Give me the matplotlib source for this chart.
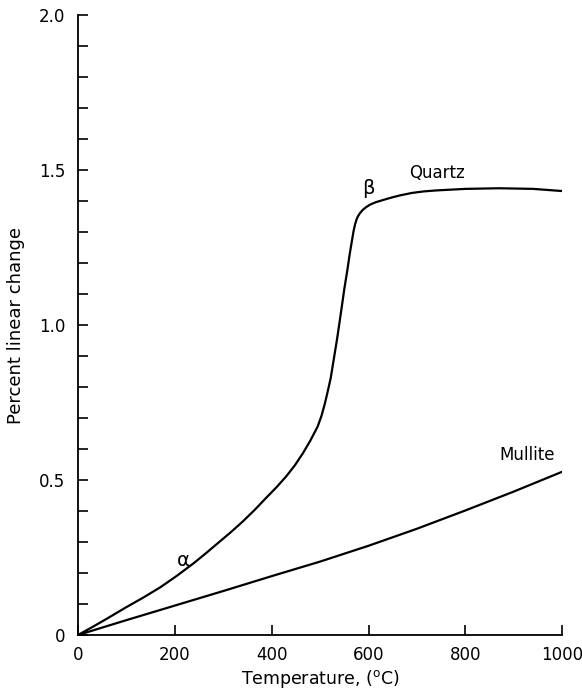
import matplotlib
matplotlib.use("Agg")
import matplotlib.pyplot as plt
from matplotlib.ticker import MultipleLocator

# Thermal expansion of quartz and mullite (percent linear change vs temperature)
quartz_T = [0, 30, 60, 100, 135, 170, 205, 240, 265, 290, 315, 340, 365, 390,
            410, 430, 448, 465, 480, 495, 503, 510, 516, 522, 528, 535, 540,
            545, 550, 556, 561, 566, 569, 572, 575, 578, 582, 588, 595, 603,
            615, 630, 645, 665, 690, 715, 740, 800, 870, 940, 1000]
quartz_pct = [0.0, 0.026, 0.053, 0.09, 0.121, 0.154, 0.192, 0.233, 0.265,
              0.298, 0.331, 0.366, 0.404, 0.445, 0.477, 0.512, 0.548, 0.588,
              0.628, 0.673, 0.708, 0.748, 0.788, 0.83, 0.888, 0.955, 1.008,
              1.062, 1.117, 1.175, 1.228, 1.275, 1.303, 1.324, 1.34, 1.351,
              1.361, 1.372, 1.381, 1.389, 1.397, 1.404, 1.411, 1.419, 1.427,
              1.432, 1.435, 1.44, 1.442, 1.44, 1.433]

mullite_T = [0, 100, 200, 300, 400, 500, 600, 700, 800, 900, 1000]
mullite_pct = [0.0, 0.048, 0.095, 0.142, 0.19, 0.237, 0.288, 0.343, 0.402,
               0.463, 0.527]

x_ticks = [0, 200, 400, 600, 800, 1000]
y_ticks = [0, 0.5, 1.0, 1.5, 2.0]
y_tick_labels = ["0", "0.5", "1.0", "1.5", "2.0"]

plt.rcParams["font.family"] = ["DejaVu Sans"]

fig = plt.figure(figsize=(5.82, 6.9), dpi=100)
ax = fig.add_axes([0.134, 0.0797, 0.832, 0.898])

ax.plot(quartz_T, quartz_pct, color="black", lw=1.6,
        solid_capstyle="round", solid_joinstyle="round")
ax.plot(mullite_T, mullite_pct, color="black", lw=1.6,
        solid_capstyle="round", solid_joinstyle="round")

ax.set_xlim(0, 1000)
ax.set_ylim(0, 2.0)

for side in ("top", "right"):
    ax.spines[side].set_visible(False)
for side in ("left", "bottom"):
    ax.spines[side].set_linewidth(1.3)

ax.set_xticks(x_ticks)
ax.set_xticklabels([str(t) for t in x_ticks])
ax.set_yticks(y_ticks)
ax.set_yticklabels(y_tick_labels)
ax.yaxis.set_minor_locator(MultipleLocator(0.1))

ax.tick_params(axis="both", which="both", direction="in", width=1.2,
               length=7, labelsize=12)
ax.tick_params(axis="y", which="major", pad=9)
ax.tick_params(axis="x", which="major", pad=8)

ax.set_xlabel("Temperature, ($^{\\mathrm{o}}$C)", fontsize=12.5, labelpad=3)
ax.set_ylabel("Percent linear change", fontsize=13, labelpad=10)

ax.text(742, 1.49, "Quartz", fontsize=12, ha="center", va="center")
ax.text(600, 1.44, "\u03b2", fontsize=14, ha="center", va="center")
ax.text(217, 0.24, "\u03b1", fontsize=14, ha="center", va="center")
ax.text(928, 0.58, "Mullite", fontsize=12, ha="center", va="center")

fig.savefig("out.png", dpi=100)
